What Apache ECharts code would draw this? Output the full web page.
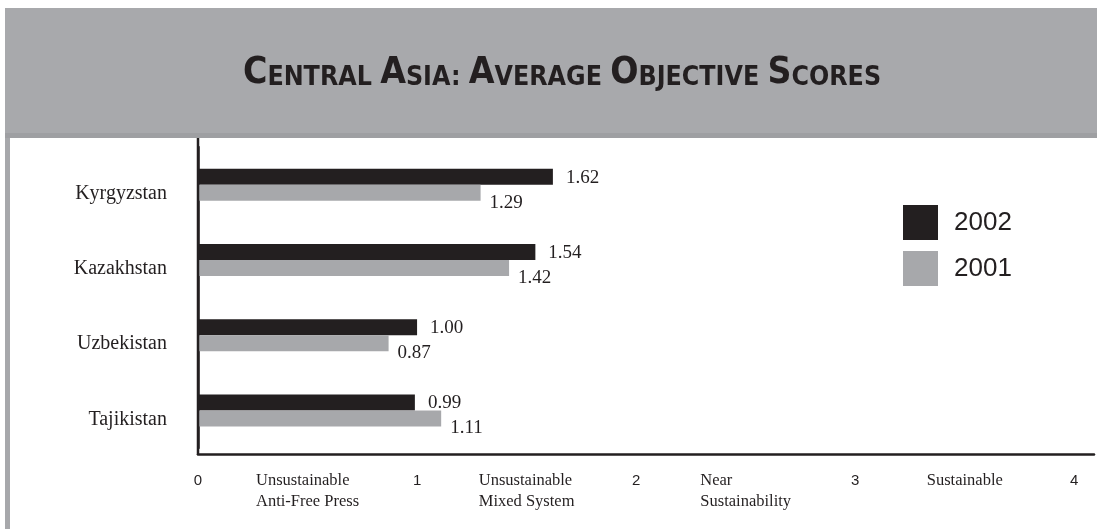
<!DOCTYPE html>
<html>
<head>
<meta charset="utf-8">
<script src="https://cdn.jsdelivr.net/npm/echarts@6/dist/echarts.min.js"></script>
<style>
  html, body { margin: 0; padding: 0; background: #ffffff; }
  #chart { width: 1097px; height: 529px; }
</style>
</head>
<body>
<div id="chart"></div>
<script>
// Countries, top to bottom
const categories = ['Kyrgyzstan', 'Kazakhstan', 'Uzbekistan', 'Tajikistan'];
// Average objective scores per year
const scores2002 = [1.62, 1.54, 1.00, 0.99];
const scores2001 = [1.29, 1.42, 0.87, 1.11];
const seriesNames = ['2002', '2001'];
// Scale numbers and the descriptions sitting between them
const tickNumbers = ['0', '1', '2', '3', '4'];
const bandLabels = [
  ['Unsustainable', 'Anti-Free Press'],
  ['Unsustainable', 'Mixed System'],
  ['Near', 'Sustainability'],
  ['Sustainable']
];

const INK = '#231f20';
const DARK = '#231f20';
const GREY = '#a7a8ab';
const SERIF = '"Liberation Serif", "Times New Roman", serif';
const SANS = '"Liberation Sans", Arial, sans-serif';

const chart = echarts.init(document.getElementById('chart'), null, { renderer: 'canvas' });

function scaleLabel(v) {
  const r = Math.round(v * 2) / 2;
  if (Math.abs(v - r) > 1e-6) return '';
  if (Number.isInteger(r)) {
    return r < tickNumbers.length ? '{n|' + tickNumbers[r] + '}' : '';
  }
  const lines = bandLabels[Math.floor(r)];
  return lines ? lines.map(l => '{d|' + l + '}').join('\n') : '';
}

const option = {
  backgroundColor: '#ffffff',
  animation: false,
  title: {
    text: '{b|C}{s|ENTRAL }{b|A}{s|SIA: }{b|A}{s|VERAGE }{b|O}{s|BJECTIVE }{b|S}{s|CORES}',
    left: 557,
    top: 50,
    textAlign: 'center',
    textStyle: {
      rich: {
        b: { fontFamily: '"DejaVu Sans Condensed", "DejaVu Sans", sans-serif', fontWeight: 'bold', fontSize: 37, color: INK, verticalAlign: 'bottom' },
        s: { fontFamily: '"DejaVu Sans Condensed", "DejaVu Sans", sans-serif', fontWeight: 'bold', fontSize: 26.5, color: INK, verticalAlign: 'bottom' }
      }
    }
  },
  graphic: [
    // header band
    { type: 'rect', z: -1, silent: true, shape: { x: 5, y: 8, width: 1092, height: 125 }, style: { fill: '#a8a9ac' } },
    { type: 'rect', z: -1, silent: true, shape: { x: 5, y: 133, width: 1092, height: 5 }, style: { fill: '#9e9fa2' } },
    // panel left border
    { type: 'rect', z: -1, silent: true, shape: { x: 5, y: 138, width: 5, height: 391 }, style: { fill: '#a7a8ab' } },
    // vertical axis rule spanning the panel
    { type: 'line', z: 10, silent: true, shape: { x1: 198, y1: 138, x2: 198, y2: 455 }, style: { stroke: INK, lineWidth: 2.5 } }
  ],
  legend: {
    data: seriesNames,
    orient: 'vertical',
    left: 898,
    top: 200,
    itemWidth: 35,
    itemHeight: 35,
    itemGap: 11,
    icon: 'rect',
    textStyle: { fontFamily: SANS, fontSize: 26, color: INK, padding: [0, 0, 0, 11] }
  },
  grid: { left: 198, right: 0, top: 147, height: 301, containLabel: false },
  xAxis: {
    type: 'value',
    min: 0,
    max: 4.09,
    interval: 0.5,
    offset: 6,
    splitLine: { show: false },
    axisTick: { show: false },
    axisLine: { show: true, lineStyle: { color: INK, width: 2.5 } },
    axisLabel: {
      margin: 16,
      formatter: scaleLabel,
      rich: {
        n: { fontFamily: SANS, fontSize: 15, lineHeight: 21, color: INK },
        d: { fontFamily: SERIF, fontSize: 16.5, lineHeight: 21, color: INK, align: 'left' }
      }
    }
  },
  yAxis: {
    type: 'category',
    data: categories,
    inverse: true,
    axisTick: { show: false },
    axisLine: { show: true, lineStyle: { color: INK, width: 2.5 } },
    axisLabel: {
      margin: 31,
      fontFamily: SERIF,
      fontSize: 20,
      lineHeight: 18,
      verticalAlign: 'top',
      color: INK
    }
  },
  series: [
    {
      name: seriesNames[0],
      type: 'bar',
      data: scores2002,
      barWidth: 16,
      barGap: '0%',
      itemStyle: { color: DARK },
      label: {
        show: true,
        position: 'right',
        distance: 13,
        offset: [0, 1],
        fontFamily: SERIF,
        fontSize: 19,
        color: INK,
        formatter: p => p.value.toFixed(2)
      }
    },
    {
      name: seriesNames[1],
      type: 'bar',
      data: scores2001,
      barWidth: 16,
      barGap: '0%',
      itemStyle: { color: GREY },
      label: {
        show: true,
        position: 'right',
        distance: 9,
        offset: [0, 10],
        fontFamily: SERIF,
        fontSize: 19,
        color: INK,
        formatter: p => p.value.toFixed(2)
      }
    }
  ]
};

chart.setOption(option);
</script>
</body>
</html>
